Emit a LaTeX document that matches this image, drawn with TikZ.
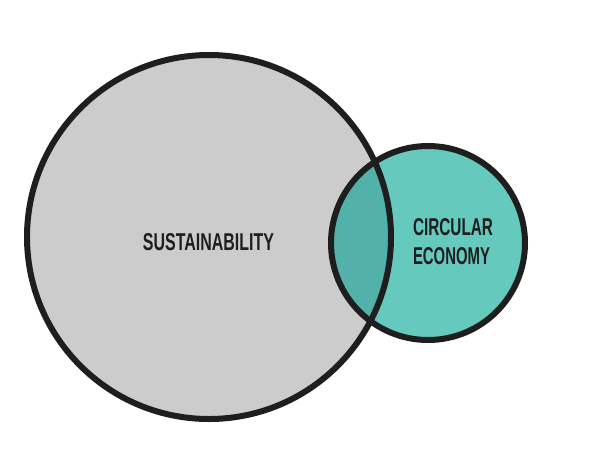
\documentclass[tikz,border=0pt]{standalone}
\usepackage{fontspec}
\setmainfont{Liberation Sans}
\usepackage{graphicx}
\definecolor{grayfill}{HTML}{CCCCCC}
\definecolor{tealfill}{HTML}{66C9BE}
\definecolor{overlapfill}{HTML}{52B2A9}
\definecolor{ink}{HTML}{1E1E1E}
\begin{document}
\begin{tikzpicture}[x=1pt,y=-1pt,
  ring/.style={draw=ink,line width=6pt},
  lbl/.style={text=ink,inner sep=0pt,font=\bfseries}]
\useasboundingbox (0,0) rectangle (607,464);
\coordinate (bc) at (209,237);
\coordinate (sc) at (428,243);
\fill[grayfill] (bc) circle[radius=182];
\fill[tealfill] (sc) circle[radius=97];
\begin{scope}
  \clip (bc) circle[radius=182];
  \fill[overlapfill] (sc) circle[radius=97];
\end{scope}
\draw[ring] (bc) circle[radius=182];
\draw[ring] (sc) circle[radius=97];
\node[lbl] (sus) at (208.5,242.5) {\resizebox{131pt}{17pt}{SUSTAINABILITY}};
\node[lbl] (circ) at (453,227.5) {\resizebox{80pt}{17pt}{CIRCULAR}};
\node[lbl] (eco) at (451.5,256.5) {\resizebox{77pt}{17pt}{ECONOMY}};
\end{tikzpicture}
\end{document}
